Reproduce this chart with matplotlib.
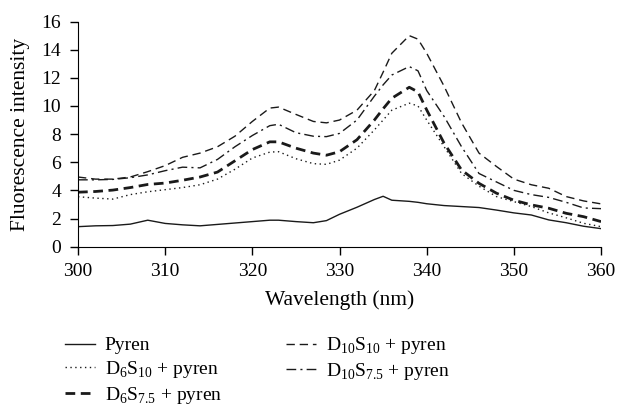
import matplotlib
matplotlib.use("Agg")
import matplotlib.pyplot as plt

plt.rcParams['font.family'] = ['Liberation Serif', 'DejaVu Serif']
plt.rcParams['mathtext.fontset'] = 'custom'
plt.rcParams['mathtext.rm'] = 'Liberation Serif'

wl = [300, 302, 304, 306, 308, 310, 312, 314, 316, 318, 320, 322, 323, 325, 327,
      328.5, 330, 332, 334, 335, 336, 338, 339, 340, 342, 344, 346, 348, 350,
      352, 354, 356, 358, 360]

pyren = [1.42, 1.48, 1.5, 1.6, 1.88, 1.65, 1.55, 1.48, 1.58, 1.68, 1.78, 1.88, 1.88, 1.78, 1.7,
         1.85, 2.3, 2.8, 3.35, 3.58, 3.3, 3.22, 3.15, 3.05, 2.92, 2.85, 2.78, 2.6, 2.4,
         2.25, 1.9, 1.7, 1.45, 1.28]
d6s10 = [3.55, 3.45, 3.38, 3.7, 3.9, 4.05, 4.2, 4.4, 4.8, 5.5, 6.3, 6.72, 6.75, 6.25, 5.9,
         5.85, 6.15, 7.0, 8.3, 9.0, 9.7, 10.2, 10.0, 9.0, 7.1, 5.2, 4.3, 3.56, 3.2,
         2.85, 2.4, 2.05, 1.66, 1.42]
d6s75 = [3.87, 3.92, 4.02, 4.2, 4.42, 4.52, 4.72, 4.95, 5.3, 6.1, 6.9, 7.45, 7.45, 7.0, 6.65,
         6.5, 6.75, 7.6, 9.0, 9.8, 10.55, 11.33, 11.0, 9.72, 7.35, 5.45, 4.5, 3.8, 3.3,
         2.97, 2.73, 2.37, 2.13, 1.78]
d10s10 = [4.95, 4.8, 4.8, 4.95, 5.33, 5.76, 6.35, 6.65, 7.1, 7.85, 8.9, 9.85, 9.92, 9.4, 8.9,
          8.8, 9.0, 9.7, 11.1, 12.4, 13.75, 15.0, 14.75, 13.75, 11.4, 8.8, 6.65, 5.7, 4.8,
          4.4, 4.15, 3.56, 3.25, 3.04]
d10s75 = [4.75, 4.75, 4.78, 4.9, 5.1, 5.4, 5.65, 5.6, 6.2, 7.1, 7.9, 8.6, 8.7, 8.1, 7.85,
          7.82, 8.05, 9.0, 10.7, 11.5, 12.2, 12.8, 12.5, 11.1, 9.25, 7.1, 5.2, 4.6, 4.0,
          3.7, 3.5, 3.15, 2.75, 2.7]

labels = ['Pyren',
          r'D$_\mathregular{6}$S$_\mathregular{10}$ + pyren',
          r'D$_\mathregular{6}$S$_\mathregular{7.5}$ + pyren',
          r'D$_\mathregular{10}$S$_\mathregular{10}$ + pyren',
          r'D$_\mathregular{10}$S$_\mathregular{7.5}$ + pyren']

fig = plt.figure(figsize=(6.19, 4.07), dpi=100)
ax = fig.add_axes([0.126, 0.394, 0.845, 0.553])

c = '#1a1a1a'
ax.plot(wl, pyren, color=c, lw=1.0, ls='-', label=labels[0])
ax.plot(wl, d6s10, color=c, lw=1.0, ls=(0, (1, 2.5)), label=labels[1])
ax.plot(wl, d6s75, color=c, lw=2.0, ls=(0, (3.5, 2)), label=labels[2])
ax.plot(wl, d10s10, color=c, lw=1.0, ls=(0, (6, 3.5)), label=labels[3])
ax.plot(wl, d10s75, color=c, lw=1.0, ls=(0, (7, 3, 1.5, 3)), label=labels[4])

ax.set_xlim(300, 360)
ax.set_ylim(0, 16)
ax.set_xticks(range(300, 361, 10))
ax.set_yticks(range(0, 17, 2))
ax.spines['top'].set_visible(False)
ax.spines['right'].set_visible(False)
ax.tick_params(direction='out', length=6, labelsize=14, width=1, pad=6)
ax.set_xlabel('Wavelength (nm)', fontsize=15.5, labelpad=7)
ax.set_ylabel('Fluorescence intensity', fontsize=15.5, labelpad=8)

fig.legend(loc='upper left', bbox_to_anchor=(0.092, 0.195), ncol=2, frameon=False,
           fontsize=14, handlelength=1.55, columnspacing=3.3, labelspacing=0.25,
           borderaxespad=0, handletextpad=0.5)

fig.savefig('out.png', dpi=100)
